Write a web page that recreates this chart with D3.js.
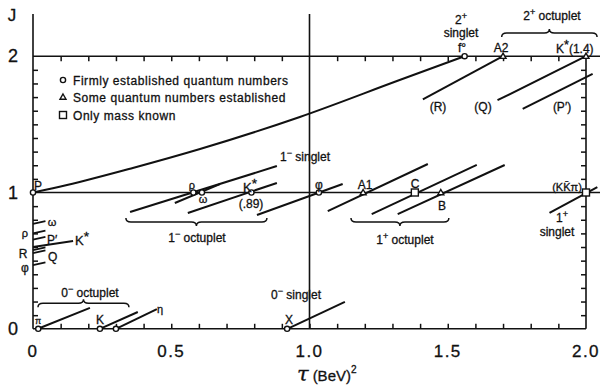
<!DOCTYPE html>
<html>
<head>
<meta charset="utf-8">
<script src="https://cdn.jsdelivr.net/npm/d3@7"></script>
<style>
  body { margin: 0; background: #fff; }
  svg text { font-family: "Liberation Sans", Arial, sans-serif; fill: #111; stroke: #111; stroke-width: 0.3; }
</style>
</head>
<body>
<script>
// Width and height
const w = 603;
const h = 387;

// Axis ticks
const xTickValues = [0, 0.5, 1.0, 1.5, 2.0];
const xTickLabels = ['0', '0.5', '1.0', '1.5', '2.0'];
const yTickValues = [0, 1, 2];
const yTickLabels = ['0', '1', '2'];
const minorTau = [0.1, 0.2, 0.3, 0.4, 0.5, 0.6, 0.7, 0.8, 0.9, 1.0, 1.1, 1.2, 1.3, 1.4, 1.5, 1.6, 1.7, 1.8, 1.9];
const minorJ = [0.1, 0.2, 0.3, 0.4, 0.5, 0.6, 0.7, 0.8, 0.9, 1.1, 1.2, 1.3, 1.4, 1.5, 1.6, 1.7, 1.8, 1.9];

// Particles: name, tau (BeV^2), J, marker kind (o = firm, t = some, s = mass only)
const markerNames = ['P', 'ρ', 'ω', 'K*(.89)', 'φ', 'A1', 'C', 'B', '(KKπ)', 'π', 'K', 'η', 'X', 'f°', 'A2', 'K*(1.4)'];
const markerTau = [0, 0.58, 0.611, 0.79, 1.034, 1.194, 1.381, 1.475, 2.0, 0.019, 0.242, 0.30, 0.919, 1.561, 1.70, 2.0];
const markerJ = [1, 1, 1, 1, 1, 1, 1, 1, 1, 0, 0, 0, 0, 2, 2, 2];
const markerKind = ['o', 'o', 'o', 'o', 'o', 't', 's', 't', 's', 'o', 'o', 'o', 'o', 'o', 't', 't'];

// Trajectory segments [tau1, J1, tau2, J2]
const trajNames = ['π', 'K', 'η', 'X', 'ρ', 'ω', 'K*', 'φ', 'A1', 'C', 'B', '1+ singlet', 'R', 'Q', "P'", 'K* intercept'];
const trajSegments = [
  [0.018, 0.0, 0.206, 0.153],
  [0.242, 0.0, 0.379, 0.123],
  [0.30, 0.0, 0.448, 0.145],
  [0.92, 0.0, 1.128, 0.197],
  [0.351, 0.857, 0.882, 1.194],
  [0.513, 0.923, 0.676, 1.062],
  [0.56, 0.85, 0.882, 1.07],
  [0.81, 0.835, 1.12, 1.062],
  [1.066, 0.864, 1.428, 1.209],
  [1.225, 0.842, 1.605, 1.202],
  [1.319, 0.842, 1.706, 1.202],
  [1.868, 0.85, 2.041, 1.04],
  [1.41, 1.684, 1.70, 2.0],
  [1.68, 1.677, 2.0, 2.0],
  [1.771, 1.613, 2.024, 1.87],
  [0, 0.60, 0.145, 0.645]
];

// Short intercept stubs on the J axis
const stubNames = ['ω', 'ρ', "P'", 'R', 'Q', 'φ'];
const stubJ = [0.77, 0.70, 0.655, 0.578, 0.556, 0.468];

// Pomeron trajectory
const pomTau = [0, 0.123, 0.361, 0.604, 0.965, 1.326, 1.561];
const pomJ = [1, 1.055, 1.18, 1.319, 1.554, 1.825, 2.0];

// Scales
const x = d3.scaleLinear().domain([0, 2]).range([33, 586]);
const y = d3.scaleLinear().domain([0, 2]).range([328.8, 56.2]);

const svg = d3.select('body').append('svg').attr('width', w).attr('height', h);

// Frame lines
const frame = svg.append('g').attr('stroke', '#111').attr('stroke-width', 1.6);
frame.append('line').attr('x1', x(0)).attr('x2', x(0)).attr('y1', 14).attr('y2', y(0));
frame.append('line').attr('x1', x(1)).attr('x2', x(1)).attr('y1', 14).attr('y2', y(0));
frame.append('line').attr('x1', x(2)).attr('x2', x(2)).attr('y1', y(2)).attr('y2', y(0));
frame.append('line').attr('x1', x(0)).attr('x2', 600).attr('y1', y(2)).attr('y2', y(2));
frame.append('line').attr('x1', x(0)).attr('x2', 600).attr('y1', y(1)).attr('y2', y(1));
frame.append('line').attr('x1', x(0)).attr('x2', x(2)).attr('y1', y(0)).attr('y2', y(0));

// Inward ticks using d3 axes
const styleAxis = g => {
  g.select('.domain').remove();
  g.selectAll('.tick line').attr('stroke', '#111').attr('stroke-width', 1.5);
  g.selectAll('.tick text').remove();
};
svg.append('g').attr('transform', `translate(0,${y(0)})`)
  .call(d3.axisTop(x).tickValues(minorTau).tickSize(5)).call(styleAxis);
svg.append('g').attr('transform', `translate(0,${y(2)})`)
  .call(d3.axisBottom(x).tickValues(minorTau.filter(d => d !== 1.0)).tickSize(5)).call(styleAxis);
svg.append('g').attr('transform', `translate(${x(0)},0)`)
  .call(d3.axisRight(y).tickValues(minorJ).tickSize(5)).call(styleAxis);
svg.append('g').attr('transform', `translate(${x(2)},0)`)
  .call(d3.axisLeft(y).tickValues(minorJ).tickSize(5)).call(styleAxis);

// Tick labels
svg.selectAll('.xlab').data(xTickValues).enter().append('text')
  .attr('x', d => x(d)).attr('y', 357).attr('text-anchor', 'middle')
  .attr('font-size', 17).attr('letter-spacing', 1.5)
  .text((d, i) => xTickLabels[i]);
svg.selectAll('.ylab').data(yTickValues).enter().append('text')
  .attr('x', 13).attr('y', d => y(d) + 6).attr('text-anchor', 'middle')
  .attr('font-size', 18)
  .text((d, i) => yTickLabels[i]);
svg.append('text').attr('x', 12).attr('y', 21).attr('text-anchor', 'middle').attr('font-size', 17).text('J');

// Axis title
const title = svg.append('text').attr('x', 297).attr('y', 381);
title.append('tspan').attr('font-size', 21).attr('font-family', 'DejaVu Serif, serif').attr('font-style', 'italic').text('τ');
title.append('tspan').attr('font-size', 15).attr('dx', 4).text('(BeV)');
title.append('tspan').attr('font-size', 10).attr('dy', -8).text('2');

// Pomeron curve
const pomLine = d3.line().x(d => x(d[0])).y(d => y(d[1])).curve(d3.curveMonotoneX);
svg.append('path').datum(pomTau.map((t, i) => [t, pomJ[i]]))
  .attr('d', pomLine).attr('fill', 'none').attr('stroke', '#111').attr('stroke-width', 2);

// Trajectory segments
svg.selectAll('.traj').data(trajSegments).enter().append('line')
  .attr('x1', d => x(d[0])).attr('y1', d => y(d[1]))
  .attr('x2', d => x(d[2])).attr('y2', d => y(d[3]))
  .attr('stroke', '#111').attr('stroke-width', 2);

// Intercept stubs
svg.selectAll('.stub').data(stubJ).enter().append('line')
  .attr('x1', x(0)).attr('y1', d => y(d))
  .attr('x2', x(0.045)).attr('y2', d => y(d + 0.02))
  .attr('stroke', '#111').attr('stroke-width', 1.8);

// Markers
const markers = markerNames.map((n, i) => ({ name: n, tau: markerTau[i], J: markerJ[i], kind: markerKind[i] }));
const drawMarker = (g, kind, cx, cy) => {
  if (kind === 'o') {
    g.append('circle').attr('cx', cx).attr('cy', cy).attr('r', 2.6);
  } else if (kind === 't') {
    g.append('path').attr('d', `M${cx},${cy - 3}L${cx + 3},${cy + 2.2}L${cx - 3},${cy + 2.2}Z`);
  } else {
    g.append('rect').attr('x', cx - 3.5).attr('y', cy - 3.5).attr('width', 7).attr('height', 7);
  }
};
const mg = svg.append('g').attr('fill', '#fff').attr('stroke', '#111').attr('stroke-width', 1.4);
markers.forEach(m => drawMarker(mg, m.kind, x(m.tau), y(m.J)));

// Legend
const lg = svg.append('g').attr('fill', '#fff').attr('stroke', '#111').attr('stroke-width', 1.4);
drawMarker(lg, 'o', 63, 80);
drawMarker(lg, 't', 63, 97);
drawMarker(lg, 's', 63, 115);
const legendText = ['Firmly established quantum numbers', 'Some quantum numbers established', 'Only mass known'];
[85, 102, 120].forEach((yy, i) => {
  svg.append('text').attr('x', 73).attr('y', yy).attr('font-size', 12).attr('letter-spacing', 0.55).text(legendText[i]);
});

// Labels with superscripts: parts are strings or {sup: '...'}
const label = (parts, px, py, size, anchor) => {
  const t = svg.append('text').attr('x', px).attr('y', py)
    .attr('font-size', size).attr('text-anchor', anchor || 'start');
  let shifted = 0;
  parts.forEach(p => {
    if (typeof p === 'string') {
      const s = t.append('tspan').text(p);
      if (shifted) { s.attr('dy', shifted); shifted = 0; }
    } else {
      const big = p.sup === '*';
      const lift = big ? size * 0.3 : size * 0.4;
      t.append('tspan').attr('font-size', big ? size * 1.05 : size * 0.75).attr('dy', -lift).text(p.sup);
      shifted = lift;
    }
  });
  return t;
};

// Particle labels
label(['P'], 34, 190, 12);
label(['ρ'], 192, 189, 11, 'middle');
label(['ω'], 203, 203, 11, 'middle');
label(['K', { sup: '*' }], 243, 192, 13);
label(['(.89)'], 251, 208, 12, 'middle');
label(['φ'], 319, 189, 12, 'middle');
label(['A1'], 365, 189, 12, 'middle');
label(['C'], 415, 188, 12, 'middle');
label(['B'], 442, 210, 12, 'middle');
label(['(KK\u0304π)'], 567, 191, 11, 'middle');
label(['1', { sup: '+' }], 562, 222, 12, 'middle');
label(['singlet'], 557, 236, 12, 'middle');
label(['1', { sup: '−' }, ' singlet'], 280, 161, 12);
label(['1', { sup: '−' }, '  octuplet'], 197, 242, 12, 'middle');
label(['1', { sup: '+' }, ' octuplet'], 405, 244, 12, 'middle');
label(['0', { sup: '−' }, ' octuplet'], 90, 297, 12, 'middle');
label(['0', { sup: '−' }, ' singlet'], 296, 299, 12, 'middle');
label(['π'], 38, 324, 9, 'middle');
label(['K'], 100, 324, 12, 'middle');
label(['η'], 160, 313, 11, 'middle');
label(['X'], 289, 324, 12, 'middle');
label(['f°'], 462, 52, 12, 'middle');
label(['A2'], 501, 52, 12, 'middle');
label(['K', { sup: '*' }, '(1.4)'], 556, 53, 12);
label(['2', { sup: '+' }], 461, 24, 12, 'middle');
label(['singlet'], 461, 37, 12, 'middle');
label(['2', { sup: '+' }, ' octuplet'], 552, 20, 12, 'middle');
label(['(R)'], 438, 111, 12, 'middle');
label(['(Q)'], 483, 111, 12, 'middle');
label(['(P′)'], 562, 111, 12, 'middle');

// Labels along the J axis
label(['ω'], 52, 226, 11, 'middle');
label(['ρ'], 25, 237, 11, 'middle');
label(['P′'], 47, 244, 12);
label(['K', { sup: '*' }], 75, 245, 13);
label(['R'], 23, 258, 12, 'middle');
label(['Q'], 48, 261, 12);
label(['φ'], 25, 272, 12, 'middle');

// Braces
const brace = (x1, x2, yy, dir) => {
  // dir = 1: tip points down, ends curl up; dir = -1: tip up
  const hgt = 4 * dir;
  const r = 5;
  const mid = (x1 + x2) / 2;
  const d = `M${x1},${yy - hgt} Q${x1},${yy} ${x1 + r},${yy} L${mid - r},${yy} Q${mid},${yy} ${mid},${yy + hgt}` +
    ` Q${mid},${yy} ${mid + r},${yy} L${x2 - r},${yy} Q${x2},${yy} ${x2},${yy - hgt}`;
  svg.append('path').attr('d', d).attr('fill', 'none').attr('stroke', '#111').attr('stroke-width', 1.5);
};
brace(x(0.018), x(0.347), y(0.187), -1);
brace(x(0.336), x(0.846), y(0.783), 1);
brace(x(1.15), x(1.504), y(0.783), 1);
brace(x(1.695), x(2.04), y(2.17), -1);
</script>
</body>
</html>
